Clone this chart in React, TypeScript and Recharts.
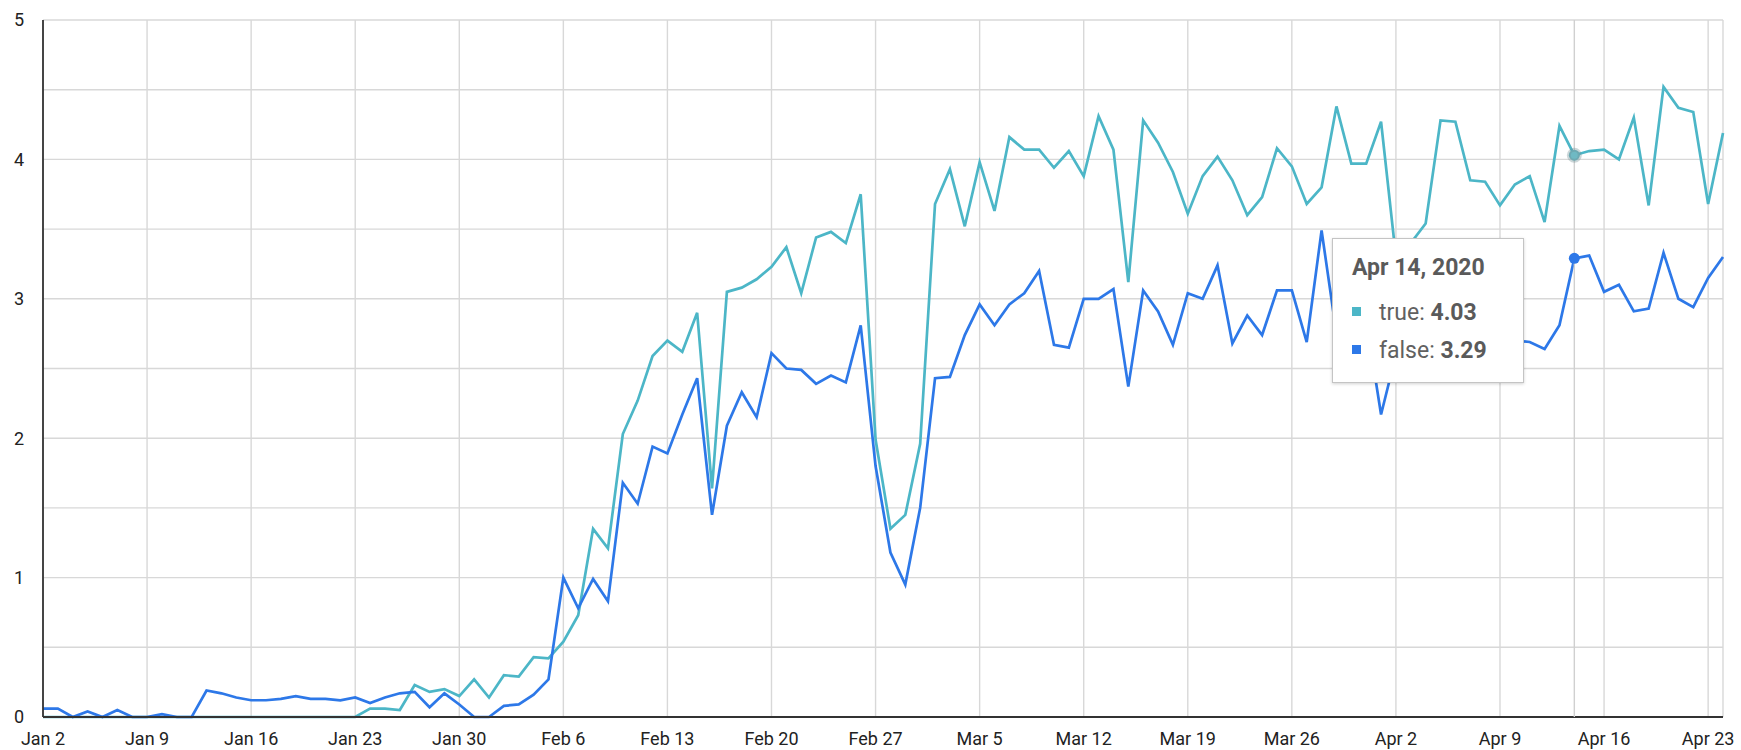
import React from 'react';
import { LineChart, Line, XAxis, YAxis, CartesianGrid, Tooltip } from 'recharts';

const START_UTC = Date.UTC(2020, 0, 2);
const MONTHS = ['Jan', 'Feb', 'Mar', 'Apr', 'May', 'Jun', 'Jul', 'Aug', 'Sep', 'Oct', 'Nov', 'Dec'];

const trueValues = [
  0, 0, 0, 0, 0, 0, 0, 0, 0, 0,
  0, 0, 0, 0, 0, 0, 0, 0, 0, 0,
  0, 0, 0.06, 0.06, 0.05, 0.23, 0.18, 0.2, 0.15, 0.27,
  0.14, 0.3, 0.29, 0.43, 0.42, 0.54, 0.73, 1.35, 1.21, 2.03,
  2.27, 2.59, 2.7, 2.62, 2.9, 1.64, 3.05, 3.08, 3.14, 3.23,
  3.37, 3.04, 3.44, 3.48, 3.4, 3.75, 1.99, 1.35, 1.45, 1.96,
  3.68, 3.93, 3.52, 3.98, 3.63, 4.16, 4.07, 4.07, 3.94, 4.06,
  3.88, 4.31, 4.07, 3.12, 4.28, 4.12, 3.91, 3.61, 3.88, 4.02,
  3.85, 3.6, 3.73, 4.08, 3.95, 3.68, 3.8, 4.38, 3.97, 3.97,
  4.27, 3.3, 3.4, 3.54, 4.28, 4.27, 3.85, 3.84, 3.67, 3.82,
  3.88, 3.55, 4.24, 4.03, 4.06, 4.07, 4.0, 4.3, 3.67, 4.52,
  4.37, 4.34, 3.68, 4.19,
];

const falseValues = [
  0.06, 0.06, 0, 0.04, 0, 0.05, 0, 0, 0.02, 0,
  0, 0.19, 0.17, 0.14, 0.12, 0.12, 0.13, 0.15, 0.13, 0.13,
  0.12, 0.14, 0.1, 0.14, 0.17, 0.18, 0.07, 0.17, 0.09, 0,
  0, 0.08, 0.09, 0.16, 0.27, 1.0, 0.78, 0.99, 0.83, 1.68,
  1.53, 1.94, 1.89, 2.17, 2.43, 1.45, 2.09, 2.33, 2.15, 2.61,
  2.5, 2.49, 2.39, 2.45, 2.4, 2.81, 1.8, 1.18, 0.95, 1.5,
  2.43, 2.44, 2.74, 2.96, 2.81, 2.96, 3.04, 3.2, 2.67, 2.65,
  3.0, 3.0, 3.07, 2.37, 3.06, 2.91, 2.67, 3.04, 3.0, 3.24,
  2.68, 2.88, 2.74, 3.06, 3.06, 2.69, 3.49, 2.75, 2.95, 2.85,
  2.17, 2.6, 2.85, 2.8, 3.0, 2.95, 2.8, 2.9, 2.72, 2.7,
  2.69, 2.64, 2.81, 3.29, 3.31, 3.05, 3.1, 2.91, 2.93, 3.33,
  3.0, 2.94, 3.15, 3.3,
];

const dateLabels = trueValues.map((_, i) => {
  const d = new Date(START_UTC + i * 86400000);
  return `${MONTHS[d.getUTCMonth()]} ${d.getUTCDate()}`;
});

const xTicks = [
  'Jan 2', 'Jan 9', 'Jan 16', 'Jan 23', 'Jan 30', 'Feb 6', 'Feb 13', 'Feb 20', 'Feb 27',
  'Mar 5', 'Mar 12', 'Mar 19', 'Mar 26', 'Apr 2', 'Apr 9', 'Apr 16', 'Apr 23',
];
const yTicks = [0, 0.5, 1, 1.5, 2, 2.5, 3, 3.5, 4, 4.5, 5];

const seriesNames = ['true', 'false'];
const seriesColors = ['#4cb6c7', '#2d78e8'];
const tooltipIndex = 103;
const year = 2020;

const data = dateLabels.map((date, i) => ({
  date,
  t: trueValues[i],
  f: falseValues[i],
}));

const FONT = 'Roboto, "Noto Sans", Arial, sans-serif';

function TipContent(props: any) {
  const { payload, label } = props;
  if (!payload || payload.length === 0) return null;
  return (
    <div
      style={{
        width: 190,
        height: 143,
        boxSizing: 'content-box',
        background: '#ffffff',
        border: '1px solid #c4c4c4',
        boxShadow: '0 1px 3px rgba(0,0,0,0.18)',
        fontFamily: FONT,
        fontSize: 23,
        color: '#616161',
        position: 'relative',
      }}
    >
      <div style={{ position: 'absolute', left: 19, top: 15, lineHeight: '27px', fontWeight: 700, color: '#5a5a5a', whiteSpace: 'nowrap' }}>
        {label}, {year}
      </div>
      {payload.map((p: any, k: number) => (
        <div
          key={k}
          style={{ position: 'absolute', left: 19, top: 55 + k * 38, lineHeight: '38px', whiteSpace: 'nowrap', display: 'flex', alignItems: 'center' }}
        >
          <span style={{ display: 'inline-block', width: 9, height: 9, background: p.color, marginRight: 18, marginTop: -3 }} />
          <span>
            {p.name}: <b style={{ color: '#5a5a5a' }}>{Number(p.value).toFixed(2)}</b>
          </span>
        </div>
      ))}
    </div>
  );
}

export default function App() {
  return (
    <div style={{ position: 'absolute', left: 0, top: 0, width: 1741, height: 750, background: '#fff' }}>
      <LineChart
        width={1741}
        height={750}
        data={data}
        margin={{ top: 20, right: 18, left: 0, bottom: 0 }}
        style={{ fontFamily: FONT }}
      >
        <CartesianGrid stroke="#d8d8d8" strokeWidth={1.4} />
        <XAxis
          dataKey="date"
          ticks={xTicks}
          interval={0}
          height={33}
          tickLine={false}
          tickMargin={9}
          axisLine={{ stroke: '#333', strokeWidth: 1.8 }}
          tick={{ fill: '#222', fontSize: 18, fontFamily: FONT }}
        />
        <YAxis
          domain={[0, 5]}
          ticks={yTicks}
          width={43}
          tickLine={false}
          tickMargin={13}
          interval={0}
          tickFormatter={(v: number) => (Number.isInteger(v) ? String(v) : '')}
          axisLine={{ stroke: '#333', strokeWidth: 1.8 }}
          tick={{ fill: '#222', fontSize: 18, fontFamily: FONT }}
        />
        <Tooltip
          defaultIndex={tooltipIndex}
          active={true}
          position={{ x: 1332, y: 238 }}
          content={TipContent}
          cursor={{ stroke: '#d0d0d0', strokeWidth: 1.4 }}
          isAnimationActive={false}
          wrapperStyle={{ outline: 'none' }}
        />
        <Line
          type="linear"
          dataKey="t"
          name={seriesNames[0]}
          stroke={seriesColors[0]}
          strokeWidth={2.7}
          dot={false}
          activeDot={{ r: 5.5, fill: '#6fb9c3', stroke: 'rgba(110,140,145,0.35)', strokeWidth: 4 }}
          isAnimationActive={false}
        />
        <Line
          type="linear"
          dataKey="f"
          name={seriesNames[1]}
          stroke={seriesColors[1]}
          strokeWidth={2.7}
          dot={false}
          activeDot={{ r: 5.5, fill: seriesColors[1], stroke: 'none' }}
          isAnimationActive={false}
        />
      </LineChart>
    </div>
  );
}
